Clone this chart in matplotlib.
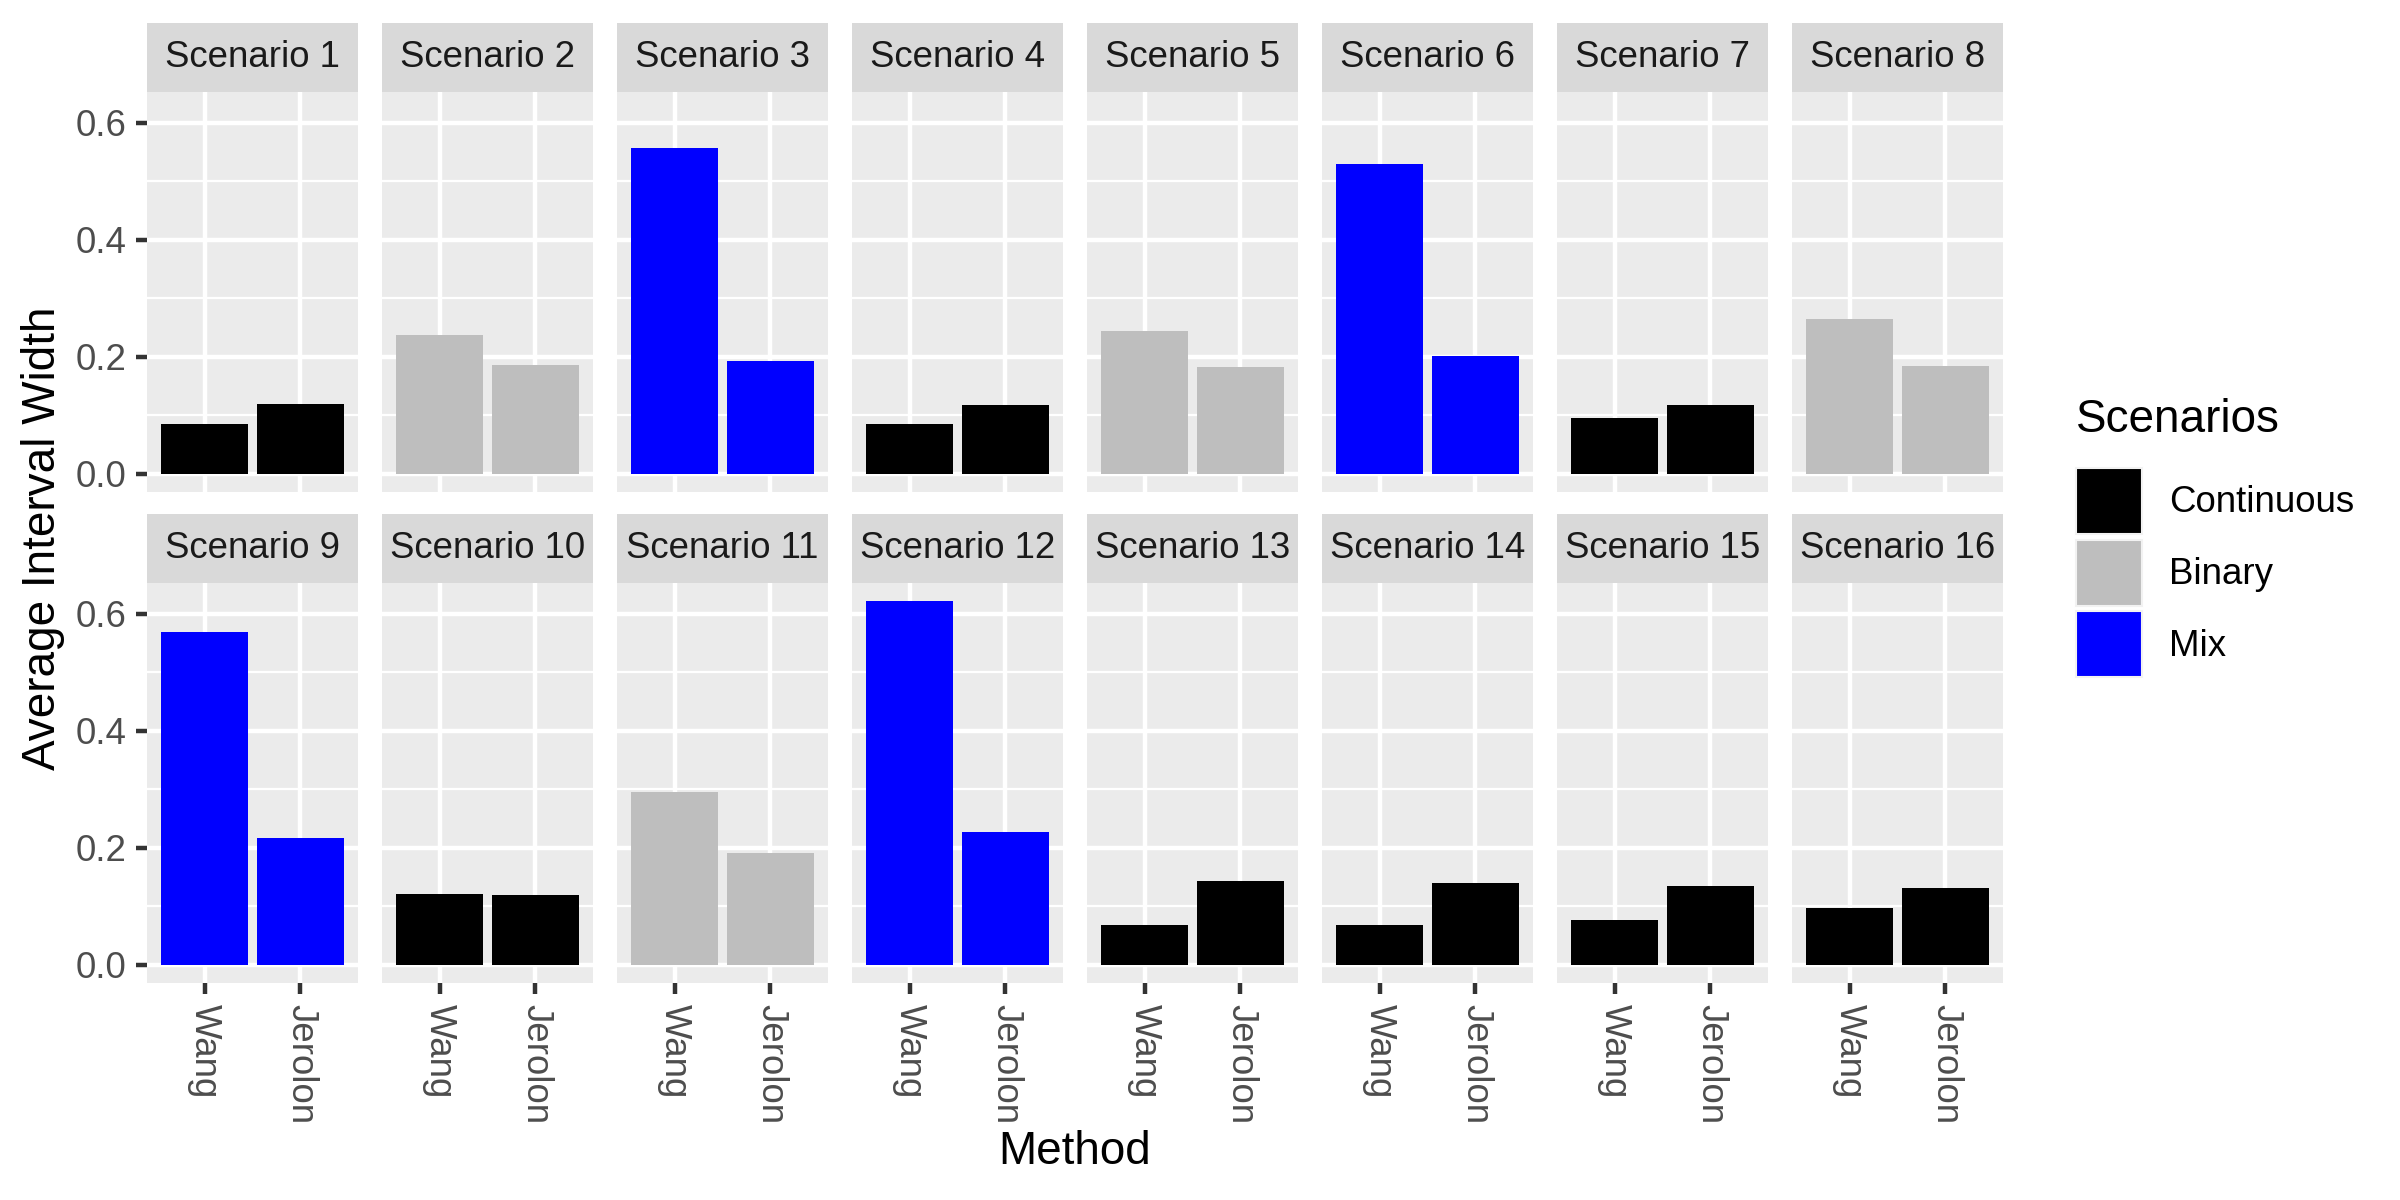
import matplotlib
matplotlib.use("Agg")
import matplotlib.pyplot as plt
from matplotlib.patches import Patch, Rectangle

# values
scenarios = ["Scenario 1", "Scenario 2", "Scenario 3", "Scenario 4",
             "Scenario 5", "Scenario 6", "Scenario 7", "Scenario 8",
             "Scenario 9", "Scenario 10", "Scenario 11", "Scenario 12",
             "Scenario 13", "Scenario 14", "Scenario 15", "Scenario 16"]
scenario_types = ["Continuous", "Binary", "Mix", "Continuous",
                  "Binary", "Mix", "Continuous", "Binary",
                  "Mix", "Continuous", "Binary", "Mix",
                  "Continuous", "Continuous", "Continuous", "Continuous"]
methods = ["Wang", "Jerolon"]
wang = [0.085, 0.237, 0.558, 0.086, 0.245, 0.530, 0.095, 0.265,
        0.570, 0.121, 0.296, 0.622, 0.068, 0.069, 0.076, 0.098]
jerolon = [0.119, 0.186, 0.193, 0.117, 0.183, 0.202, 0.118, 0.184,
           0.217, 0.120, 0.192, 0.228, 0.143, 0.140, 0.135, 0.131]
yticks = [0.0, 0.2, 0.4, 0.6]
ytick_labels = ["0.0", "0.2", "0.4", "0.6"]
yticks_minor = [0.1, 0.3, 0.5]

type_order = ["Continuous", "Binary", "Mix"]
type_colors = {"Continuous": "black", "Binary": "#BEBEBE", "Mix": "blue"}

plt.rcParams["font.family"] = ["Liberation Sans", "DejaVu Sans"]

W, H = 2400, 1200
fig = plt.figure(figsize=(8, 4), dpi=300)


def px_box(left, top, width, height):
    """Pixel box (from top-left) -> figure fraction rect."""
    return [left / W, 1 - (top + height) / H, width / W, height / H]


panel_left0 = 147
panel_step = 235
panel_w = 211
panel_h = 400
row_tops = [92, 583]
strip_h = 69
y_lim = (-0.031, 0.653)

for i, name in enumerate(scenarios):
    row, col = divmod(i, 8)
    ax = fig.add_axes(px_box(panel_left0 + col * panel_step, row_tops[row], panel_w, panel_h))
    ax.set_facecolor("#EBEBEB")
    ax.set_axisbelow(True)
    ax.bar([0, 1], [wang[i], jerolon[i]], width=0.9,
           color=type_colors[scenario_types[i]], zorder=3)
    ax.set_xlim(-0.6, 1.6)
    ax.set_ylim(*y_lim)
    ax.set_xticks([0, 1])
    ax.set_yticks(yticks)
    ax.set_yticks(yticks_minor, minor=True)
    ax.grid(which="major", color="white", lw=1.07)
    ax.grid(which="minor", axis="y", color="white", lw=0.53)
    for sp in ax.spines.values():
        sp.set_visible(False)
    ax.tick_params(which="minor", length=0)
    ax.tick_params(which="major", length=2.75, width=1.07, color="#333333",
                   labelsize=8.8, labelcolor="#4D4D4D", pad=2.2)
    if col == 0:
        ax.set_yticklabels(ytick_labels)
    else:
        ax.tick_params(axis="y", left=False, labelleft=False)
    if row == 0:
        ax.tick_params(axis="x", bottom=False, labelbottom=False)
    else:
        ax.set_xticklabels(methods, rotation=-90, va="top", ha="center")

    # facet strip
    ax.add_patch(Rectangle((0, 1), 1, strip_h / panel_h, transform=ax.transAxes,
                           facecolor="#D9D9D9", edgecolor="none", clip_on=False))
    ax.text(0.5, 1 + strip_h / panel_h / 2, name, transform=ax.transAxes,
            ha="center", va="center", fontsize=8.8, color="#1A1A1A")

fig.text(43 / W, 1 - 538 / H, "Average Interval Width", rotation=90,
         ha="center", va="center", fontsize=11)
fig.text(1075 / W, 1 - 1152 / H, "Method", ha="center", va="center", fontsize=11)

handles = [Patch(facecolor=type_colors[t], edgecolor="#F2F2F2", lw=0.5, label=t)
           for t in type_order]
leg = fig.legend(handles=handles, title="Scenarios", loc="upper left",
                 bbox_to_anchor=(2076 / W, 1 - 398 / H), frameon=False,
                 fontsize=8.8, title_fontsize=11, handlelength=1.8, handleheight=2.39,
                 handletextpad=0.74, labelspacing=0.16, alignment="left",
                 borderpad=0, borderaxespad=0)
# more room between the legend title and the keys
leg._legend_box.sep = 6.2

fig.savefig("out.png", dpi=300)
